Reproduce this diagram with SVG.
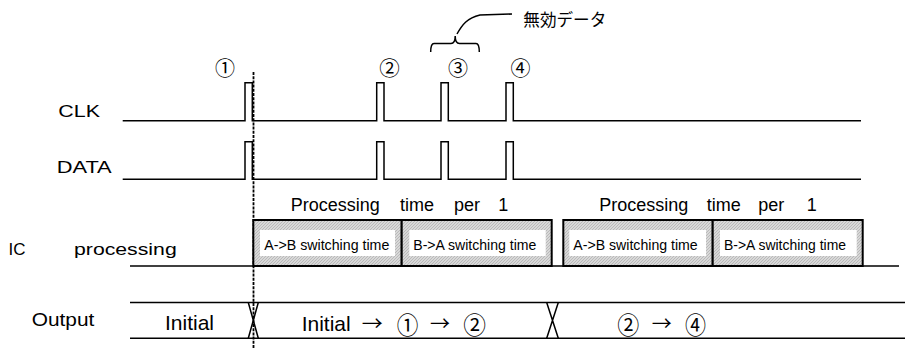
<svg xmlns="http://www.w3.org/2000/svg" width="905" height="349" viewBox="0 0 905 349">
<style>
.lbl{font-family:"Liberation Sans",Arial,sans-serif;fill:#000}
.jp{font-family:"Noto Sans CJK JP","Liberation Sans",sans-serif;fill:#000}
.sig{fill:none;stroke:#000;stroke-width:1.5}
.box{fill:url(#hatch);stroke:#000;stroke-width:2}
.inner{fill:#fff;stroke:none}
.small{font-family:"Liberation Sans",Arial,sans-serif;font-size:14px;fill:#000}
.proc{font-family:"Liberation Sans",Arial,sans-serif;font-size:18px;fill:#000}
</style>
<defs>
<pattern id="hatch" width="3" height="3" patternUnits="userSpaceOnUse">
<rect width="3" height="3" fill="#d8d8d8"/>
<path d="M0,3 L3,0" stroke="#acacac" stroke-width="0.7"/>
</pattern>
</defs>
<rect width="905" height="349" fill="#fff"/>

<g id="labels">
<text class="lbl" x="58.3" y="116.7" font-size="17" textLength="41.7" lengthAdjust="spacingAndGlyphs">CLK</text>
<text class="lbl" x="56.7" y="173" font-size="17" textLength="55" lengthAdjust="spacingAndGlyphs">DATA</text>
<text class="lbl" x="8.5" y="255" font-size="17">IC <tspan x="74" textLength="102.7" lengthAdjust="spacingAndGlyphs">processing</tspan></text>
<text class="lbl" x="31.7" y="326" font-size="17.5" textLength="62.6" lengthAdjust="spacingAndGlyphs">Output</text>
</g>

<g id="markers">
<text class="jp" y="75.5" font-size="20.5"><tspan x="215" textLength="20" lengthAdjust="spacingAndGlyphs">①</tspan> <tspan x="379.3" textLength="20.5" lengthAdjust="spacingAndGlyphs">②</tspan> <tspan x="448" textLength="20" lengthAdjust="spacingAndGlyphs">③</tspan> <tspan x="510.5" textLength="20" lengthAdjust="spacingAndGlyphs">④</tspan></text>
</g>

<g id="invalid-data">
<path class="sig" d="M430.7,52 Q430.7,43.5 434,43.5 H451 Q455.2,43.5 455.2,36 Q455.2,43.5 459.5,43.5 H476 Q479.3,43.5 479.3,52"/>
<path class="sig" d="M457,34 C462,25 467,18 480,15 L512,14"/>
<text class="jp" x="523.3" y="25.5" font-size="17" textLength="83" lengthAdjust="spacingAndGlyphs">無効データ</text>
</g>

<g id="connectors">
<path id="clk" class="sig" d="M122.7,120.7 H245 V82.7 H252.3 V120.7 H376.7 V82.7 H384 V120.7 H441 V82.7 H448.3 V120.7 H506 V82.7 H513.3 V120.7 H861"/>
<path id="data" class="sig" d="M122.7,179.3 H245 V141.7 H252.3 V179.3 H376.7 V141.7 H384 V179.3 H441 V141.7 H448.3 V179.3 H506 V141.7 H513.3 V179.3 H861"/>
<path id="ic-line" class="sig" d="M130,266 H899"/>
<path id="out-top" class="sig" d="M130,302.5 H905"/>
<path id="out-bot" class="sig" d="M130,338.3 H905"/>
<path id="x1" class="sig" d="M248.3,302.5 L258.3,338.3 M258.3,302.5 L248.3,338.3"/>
<path id="x2" class="sig" d="M546.7,302.5 L558.3,338.3 M558.3,302.5 L546.7,338.3"/>
<path id="marker-line" fill="none" stroke="#000" stroke-width="1.8" stroke-dasharray="3,1.2" d="M253.5,72 V348"/>
</g>

<g id="proc1">
<text class="proc" y="211"><tspan x="290.7">Processing</tspan> <tspan x="400">time</tspan> <tspan x="454">per</tspan> <tspan x="498.3">1</tspan></text>
<rect class="box" x="253.3" y="220" width="148.4" height="46"/>
<rect class="box" x="401.7" y="220" width="150" height="46"/>
<rect class="inner" x="260" y="230" width="135" height="26"/>
<rect class="inner" x="409.3" y="230" width="136.4" height="26"/>
<text class="small" x="264.3" y="249.5" textLength="125" lengthAdjust="spacingAndGlyphs">A-&gt;B switching time</text>
<text class="small" x="413.3" y="249.5" textLength="123" lengthAdjust="spacingAndGlyphs">B-&gt;A switching time</text>
</g>

<g id="proc2">
<text class="proc" y="211"><tspan x="599.3">Processing</tspan> <tspan x="706.7">time</tspan> <tspan x="758.3">per</tspan> <tspan x="806.7">1</tspan></text>
<rect class="box" x="563.3" y="220" width="149.4" height="46"/>
<rect class="box" x="712.7" y="220" width="150" height="46"/>
<rect class="inner" x="569.3" y="230" width="136.7" height="26"/>
<rect class="inner" x="720" y="230" width="136.7" height="26"/>
<text class="small" x="573.3" y="249.5" textLength="124.4" lengthAdjust="spacingAndGlyphs">A-&gt;B switching time</text>
<text class="small" x="724" y="249.5" textLength="122" lengthAdjust="spacingAndGlyphs">B-&gt;A switching time</text>
</g>

<g id="output-values">
<text class="lbl" x="165" y="330" font-size="21">Initial</text>
<text class="lbl" x="301.7" y="330.5" font-size="21">Initial</text>
<text class="jp" y="331" font-size="20"><tspan x="361.7" textLength="21" lengthAdjust="spacingAndGlyphs">→</tspan> <tspan x="430" textLength="20" lengthAdjust="spacingAndGlyphs">→</tspan> <tspan x="651.7" textLength="20" lengthAdjust="spacingAndGlyphs">→</tspan></text>
<text class="jp" y="333.5" font-size="24"><tspan x="396.7" textLength="21.6" lengthAdjust="spacingAndGlyphs">①</tspan> <tspan x="463.3" textLength="22.7" lengthAdjust="spacingAndGlyphs">②</tspan> <tspan x="617.3" textLength="22" lengthAdjust="spacingAndGlyphs">②</tspan> <tspan x="685" textLength="21" lengthAdjust="spacingAndGlyphs">④</tspan></text>
</g>
</svg>
